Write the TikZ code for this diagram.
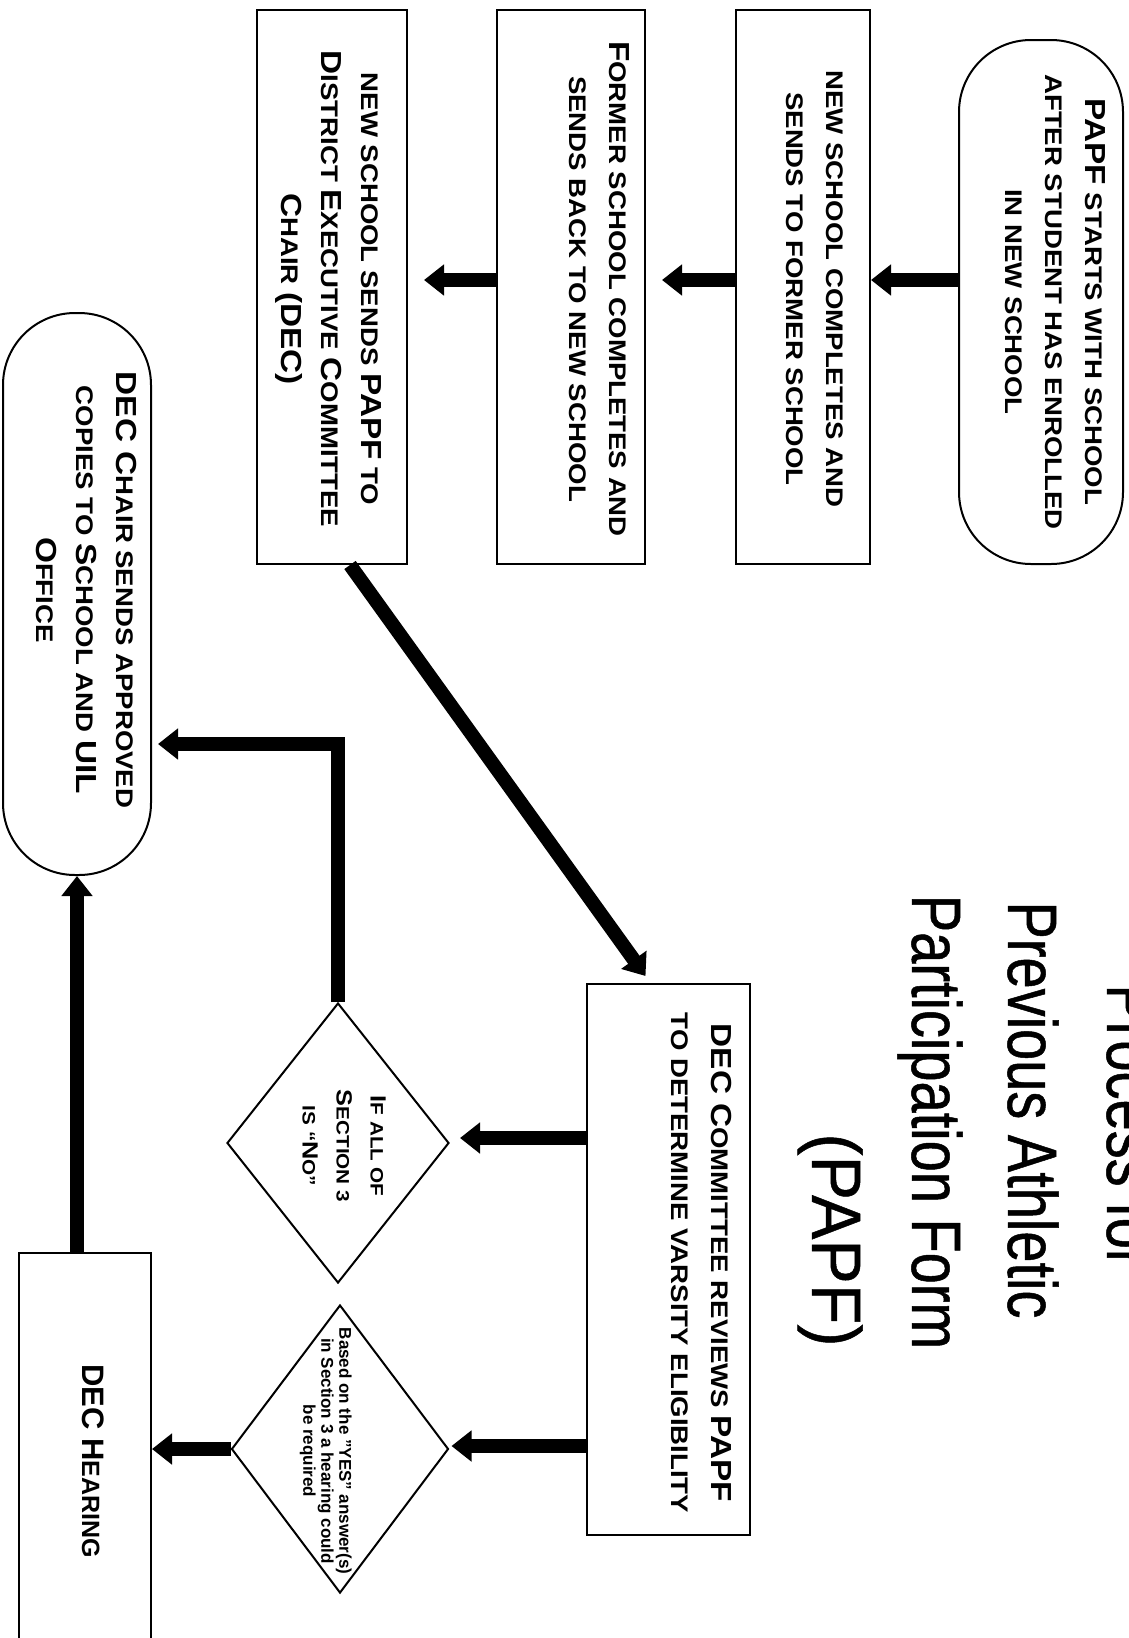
\documentclass[tikz,border=0pt]{standalone}
\usepackage{fontspec}
\setmainfont{Liberation Sans}
\newfontfamily\bodyfont[FakeStretch=1.15]{Liberation Sans}
\newfontfamily\titlefont[FakeStretch=0.8,FakeBold=0.7]{Liberation Sans}
\newfontfamily\titlefontb[FakeStretch=0.95,FakeBold=0.7]{Liberation Sans}
\usetikzlibrary{arrows.meta,shapes.geometric}
\newcommand\Lg[1]{{\fontsize{29}{40}\selectfont #1}}
\newcommand\Ls[1]{{\fontsize{22}{34}\selectfont #1}}
\newcommand\Lh[1]{{\fontsize{31}{34}\selectfont #1}}
\begin{document}
\begin{tikzpicture}[x=1pt,y=-1pt,
  box/.style={draw, line width=2pt, rotate=-90, inner sep=0pt},
  term/.style={box, rounded corners=72pt},
  dia/.style={draw, line width=2pt, diamond, inner sep=0pt},
  txt/.style={rotate=-90, inner sep=0pt, anchor=north, align=center,
    font=\bodyfont\bfseries\fontsize{24}{40}\selectfont},
  htxt/.style={txt, font=\bfseries\fontsize{25}{34}\selectfont},
  dtxt/.style={txt, font=\bodyfont\bfseries\fontsize{18}{34}\selectfont},
  ntxt/.style={rotate=-90, inner sep=0pt, anchor=north, align=center,
    font=\bfseries\fontsize{17}{18}\selectfont},
  conn/.style={line width=14pt, line join=miter, -{Triangle[length=20pt,width=30pt]}},
  ttl/.style={rotate=-90, inner sep=0pt, anchor=base,
    font=\titlefont\fontsize{70}{80}\selectfont}]
\useasboundingbox[fill=white] (0,0) rectangle (1128,1638);

% title
\node[ttl] (tl1) at (1107,1126) {Process for};
\node[ttl] (tl2) at (1008,1110) {Previous Athletic};
\node[ttl] (tl3) at (912,1122) {Participation Form};
\node[ttl, font=\titlefontb\fontsize{70}{80}\selectfont] (tl4) at (812,1240) {(PAPF)};

% shapes
\node[term, minimum width=524pt, minimum height=164pt] (start) at (1041,302) {};
\node[box, minimum width=554pt, minimum height=134pt] (b2) at (803,287) {};
\node[box, minimum width=554pt, minimum height=148pt] (b3) at (571,287) {};
\node[box, minimum width=554pt, minimum height=150pt] (b4) at (332,287) {};
\node[box, minimum width=551pt, minimum height=163pt] (rev) at (668.5,1259.5) {};
\node[dia, minimum width=222pt, minimum height=280pt] (d1) at (338,1143) {};
\node[dia, minimum width=217pt, minimum height=288pt] (d2) at (340,1449) {};
\node[term, minimum width=562pt, minimum height=148pt] (t2) at (77,594) {};
\node[box, minimum width=407pt, minimum height=132pt] (hear) at (85,1456.5) {};

% texts
\node[txt] (starttxt) at (1106,302) {\Lg{PAPF} STARTS WITH SCHOOL\\AFTER STUDENT HAS ENROLLED\\IN NEW SCHOOL};
\node[txt] (b2txt) at (843,289) {NEW SCHOOL COMPLETES AND\\SENDS TO FORMER SCHOOL};
\node[txt] (b3txt) at (630,289) {\Lg{F}ORMER SCHOOL COMPLETES AND\\SENDS BACK TO NEW SCHOOL};
\node[txt] (b4txt) at (382,289) {NEW SCHOOL SENDS \Lg{PAPF} TO\\\Lg{D}ISTRICT \Lg{E}XECUTIVE \Lg{C}OMMITTEE\\\Lg{C}HAIR \Lg{(DEC)}};
\node[txt] (revtxt) at (732,1263) {\Lg{DEC C}OMMITTEE REVIEWS \Lg{PAPF}\\TO DETERMINE VARSITY ELIGIBILITY};
\node[dtxt] (d1txt) at (386,1146) {\Ls{I}F ALL OF\\\Ls{S}ECTION 3\\IS “\Ls{N}O”};
\node[ntxt] (d2txt) at (352,1451) {Based on the "YES" answer(s)\\in Section 3 a hearing could\\be required};
\node[txt] (t2txt) at (137,590) {\Lg{DEC C}HAIR SENDS APPROVED\\COPIES TO \Lg{S}CHOOL AND \Lg{UIL}\\\Lg{O}FFICE};
\node[htxt] (heartxt) at (104,1461) {\Lh{DEC H}EARING};

% connectors
\draw[conn] (start.south |- 0,280) -- (b2.north |- 0,280);
\draw[conn] (b2.south |- 0,280) -- ([xshift=16pt]b3.north |- 0,280);
\draw[conn] (b3.south |- 0,280) -- ([xshift=16pt]b4.north |- 0,280);
\draw[conn] ([xshift=18pt]b4.east) -- ([xshift=-23pt,yshift=7pt]rev.west);
\draw[conn] (rev.south |- 0,1138) -- ([xshift=10pt]d1.east |- 0,1138);
\draw[conn] (rev.south |- 0,1446) -- ([xshift=2pt]d2.east |- 0,1446);
\draw[conn] (d2.west) -- (hear.north |- d2.west);
\draw[conn] (d1.north) |- ([xshift=6pt]t2.north |- 0,744);
\draw[conn] (t2.east |- hear.west) -- (t2.east);
\end{tikzpicture}
\end{document}
